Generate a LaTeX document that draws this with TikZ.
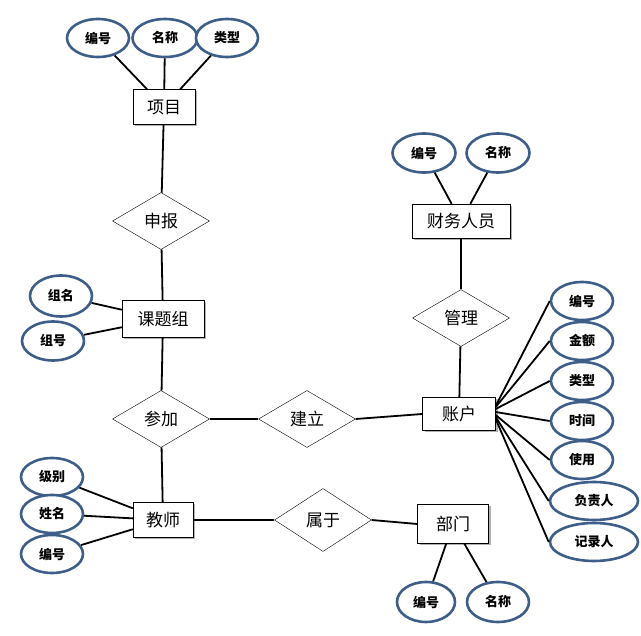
\documentclass[tikz,border=0pt]{standalone}
\usepackage{fontspec}
\setmainfont{Noto Sans CJK SC}
\usetikzlibrary{shapes.geometric,shadows}
\definecolor{attrblue}{RGB}{62,94,138}

\tikzset{
  entity/.style = {rectangle, draw, thin, fill=white, inner sep=0pt,
    drop shadow={shadow xshift=2pt, shadow yshift=-2pt, fill=black!30, opacity=1},
    font=\fontsize{17}{17}\selectfont},
  attr/.style = {ellipse, draw=attrblue, line width=2.6pt, fill=white,
    minimum width=62pt, minimum height=38pt, inner sep=0pt,
    font=\bfseries\fontsize{13}{13}\selectfont},
  rel/.style = {diamond, draw, thin, fill=white, minimum width=97pt,
    minimum height=57pt, inner sep=0pt, font=\fontsize{17}{17}\selectfont},
  link/.style = {line width=1.8pt}
}

\begin{document}
\begin{tikzpicture}[x=1pt, y=-1pt]
  \useasboundingbox (0,0) rectangle (641,636);

  % 项目 and its attributes
  \node[entity, minimum width=62pt, minimum height=35pt] (proj) at (164,107) {项目};
  \node[attr] (p1) at (98,38) {编号};
  \node[attr, minimum width=65pt] (p2) at (165,38) {名称};
  \node[attr] (p3) at (227,38) {类型};
  \node[rel] (apply) at (161,221) {申报};

  % 课题组
  \node[entity, minimum width=82pt, minimum height=37pt] (group) at (163,319) {课题组};
  \node[attr, minimum height=41pt] (g1) at (61,296) {组名};
  \node[attr, minimum height=39pt] (g2) at (53,341) {组号};
  \node[rel] (join) at (161,419) {参加};
  \node[rel] (build) at (307,419) {建立};

  % 账户 and 财务人员
  \node[entity, minimum width=73pt, minimum height=33pt] (acct) at (459,414) {账户};
  \node[rel] (manage) at (461,318) {管理};
  \node[entity, minimum width=98pt, minimum height=34pt] (staff) at (461,221) {财务人员};
  \node[attr, minimum width=63pt, minimum height=39pt] (s1) at (424,153) {编号};
  \node[attr, minimum width=63pt, minimum height=39pt] (s2) at (498,153) {名称};
  \foreach \n/\y/\t in {a1/301/编号, a2/341/金额, a3/381/类型, a4/421/时间, a5/460/使用}
    \node[attr] (\n) at (582,\y) {\t};
  \node[attr, minimum width=88pt] (a6) at (594,501) {负责人};
  \node[attr, minimum width=88pt] (a7) at (594,542) {记录人};

  % 教师 and 部门
  \node[entity, minimum width=60pt, minimum height=35pt] (teacher) at (163,520) {教师};
  \node[attr] (t1) at (52,477) {级别};
  \node[attr] (t2) at (52,514) {姓名};
  \node[attr] (t3) at (52,554) {编号};
  \node[rel, minimum height=63pt] (belong) at (323,520) {属于};
  \node[entity, minimum width=71pt, minimum height=39pt] (dept) at (453,524) {部门};
  \node[attr, minimum width=58pt, minimum height=40pt] (d1) at (426,602) {编号};
  \node[attr, minimum height=40pt] (d2) at (498,602) {名称};

  % connectors
  \foreach \a in {p1,p2,p3} \draw[link] (\a) -- (proj);
  \draw[link] (proj) -- (apply);
  \draw[link] (apply) -- (group);
  \draw[link] (g1) -- (group);
  \draw[link] (g2) -- (group);
  \draw[link] (group) -- (join);
  \draw[link] (join) -- (teacher);
  \draw[link] (join.east) -- (build.west);
  \draw[link] (build.east) -- (acct.west);
  \draw[link] (acct) -- (manage);
  \draw[link] (manage) -- (staff);
  \draw[link] (s1) -- (staff);
  \draw[link] (s2) -- (staff);
  \foreach \n/\dy in {a1/8, a2/7, a3/5, a4/2, a5/-1, a6/-3, a7/-5}
    \draw[link] ([yshift=\dy pt]acct.east) -- (\n.west);
  \foreach \a in {t1,t2,t3} \draw[link] (\a) -- (teacher);
  \draw[link] (teacher.east) -- (belong.west);
  \draw[link] (belong.east) -- (dept.west);
  \draw[link] (d1) -- (dept);
  \draw[link] (d2) -- (dept);
\end{tikzpicture}
\end{document}
